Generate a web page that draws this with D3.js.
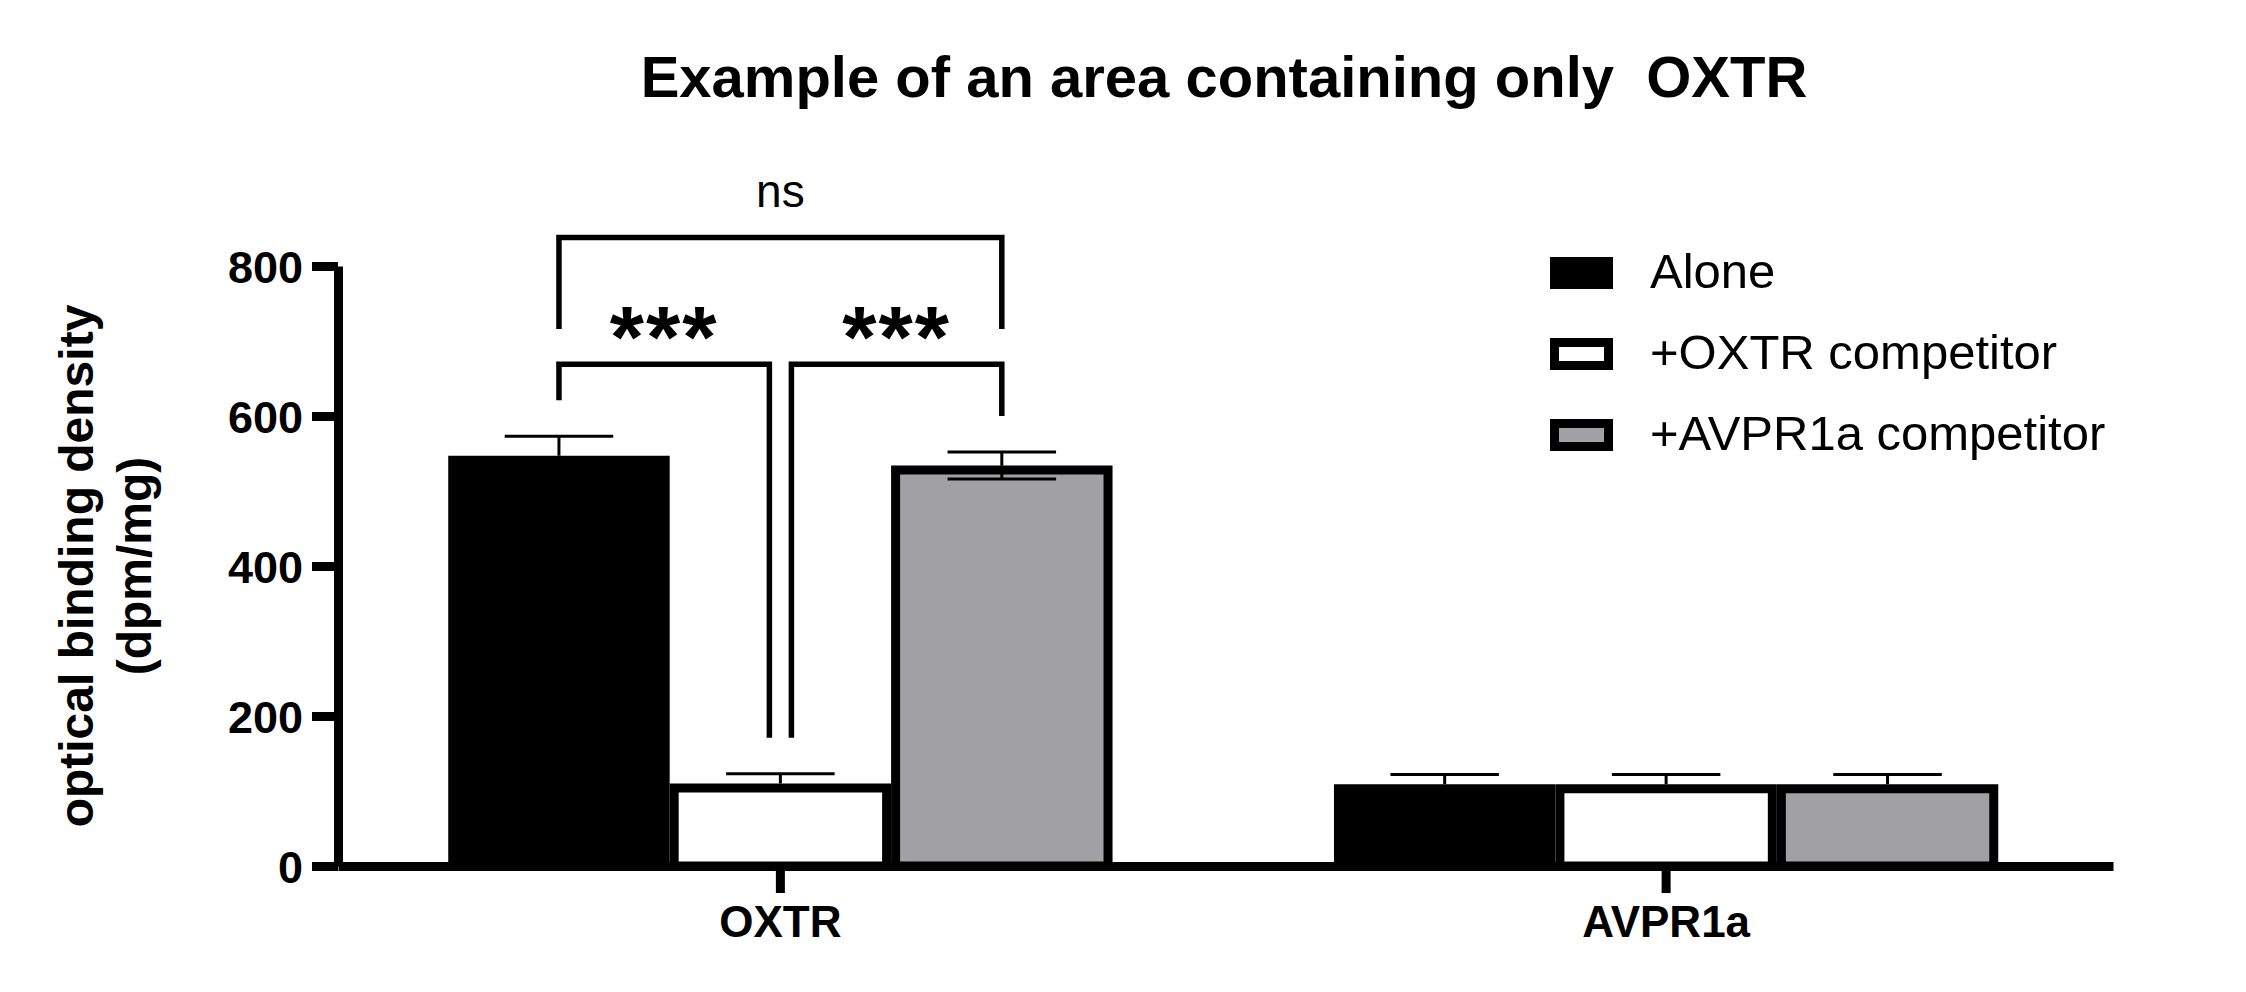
<!DOCTYPE html>
<html>
<head>
<meta charset="utf-8">
<script src="https://cdn.jsdelivr.net/npm/d3@7"></script>
<style>
  html, body { margin: 0; padding: 0; background: #fff; }
  svg { display: block; font-family: "Liberation Sans", Arial, sans-serif; }
</style>
</head>
<body>
<svg id="chart" width="2246" height="992"></svg>
<script>
// ---------- data ----------
const categories = ["OXTR", "AVPR1a"];
const seriesNames = ["Alone", "+OXTR competitor", "+AVPR1a competitor"];
const seriesFills = ["#000000", "#ffffff", "#a1a1a5"];

const aloneValues = [547, 109];
const aloneErrors = [26, 13];
const oxtrCompValues = [110, 109];
const oxtrCompErrors = [13, 13];
const avprCompValues = [534, 109];
const avprCompErrors = [18, 13];
// whether the lower half of the error bar is drawn (per series, per category)
const aloneErrLower = [false, false];
const oxtrCompErrLower = [false, false];
const avprCompErrLower = [true, false];

const yTicks = [0, 200, 400, 600, 800];
const titleText = "Example of an area containing only  OXTR";
const yLabelLines = ["optical binding density", "(dpm/mg)"];

// significance comparisons (within the OXTR group)
const compCategory = ["OXTR", "OXTR", "OXTR"];
const compFrom = [0, 0, 1];
const compTo = [2, 1, 2];
const compTop = [838, 669, 669];
const compFromEnd = [716, 621, 171];
const compToEnd = [716, 171, 600];
const compLabels = ["ns", "***", "***"];

// ---------- build ----------
const seriesValues = [aloneValues, oxtrCompValues, avprCompValues];
const seriesErrors = [aloneErrors, oxtrCompErrors, avprCompErrors];
const seriesErrLower = [aloneErrLower, oxtrCompErrLower, avprCompErrLower];

const rows = [];
categories.forEach((c, ci) => {
  seriesNames.forEach((s, si) => {
    rows.push({cat: c, si, value: seriesValues[si][ci], err: seriesErrors[si][ci], lower: seriesErrLower[si][ci]});
  });
});

const svg = d3.select("#chart");
const AX = 9;       // axis stroke width
const BS = 9;       // bar border width

const y = d3.scaleLinear().domain([0, 800]).range([866, 266]);
const x0 = d3.scaleBand().domain(categories).range([338, 2113])
  .paddingInner(0.25).paddingOuter(0.127).align(0.49);
const x1 = d3.scaleBand().domain(d3.range(seriesNames.length)).range([0, x0.bandwidth()]).padding(0);

// title
svg.append("text")
  .attr("x", 1224).attr("y", 97)
  .attr("text-anchor", "middle")
  .attr("font-size", 58).attr("font-weight", "bold")
  .style("white-space", "pre")
  .attr("xml:space", "preserve")
  .text(titleText);

// bars
const barG = svg.append("g");
barG.selectAll("rect.bar").data(rows).join("rect")
  .attr("class", "bar")
  .attr("x", d => x0(d.cat) + x1(d.si) + BS / 2)
  .attr("y", d => y(d.value) + BS / 2)
  .attr("width", x1.bandwidth() - BS)
  .attr("height", d => y(0) - y(d.value) - BS / 2)
  .attr("fill", d => seriesFills[d.si])
  .attr("stroke", "#000")
  .attr("stroke-width", BS);

// error bars
const capW = x1.bandwidth() * 0.49;
const errG = svg.append("g").attr("stroke", "#000").attr("stroke-width", 3).attr("fill", "none");
rows.forEach(d => {
  const cx = x0(d.cat) + x1(d.si) + x1.bandwidth() / 2;
  errG.append("line").attr("x1", cx).attr("x2", cx).attr("y1", y(d.value)).attr("y2", y(d.value + d.err));
  errG.append("line").attr("x1", cx - capW / 2).attr("x2", cx + capW / 2).attr("y1", y(d.value + d.err)).attr("y2", y(d.value + d.err));
  if (d.lower) {
    errG.append("line").attr("x1", cx).attr("x2", cx).attr("y1", y(d.value)).attr("y2", y(d.value - d.err));
    errG.append("line").attr("x1", cx - capW / 2).attr("x2", cx + capW / 2).attr("y1", y(d.value - d.err)).attr("y2", y(d.value - d.err));
  }
});

// y axis
const yAxis = d3.axisLeft(y).tickValues(yTicks).tickSize(26).tickSizeOuter(0).tickPadding(9);
const yg = svg.append("g").attr("transform", "translate(338,0)").call(yAxis);
yg.select(".domain").attr("stroke-width", AX).attr("stroke", "#000");
yg.selectAll(".tick line").attr("stroke-width", AX).attr("stroke", "#000");
yg.selectAll(".tick text")
  .attr("font-family", "'Liberation Sans', Arial, sans-serif")
  .attr("font-size", 45).attr("font-weight", "bold").attr("fill", "#000")
  .attr("dy", "0.36em");

// x axis
const xAxis = d3.axisBottom(x0).tickSize(27).tickSizeOuter(0).tickPadding(13);
const xg = svg.append("g").attr("transform", `translate(0,${y(0)})`).call(xAxis);
xg.select(".domain").attr("stroke-width", AX).attr("stroke", "#000");
xg.selectAll(".tick line").attr("stroke-width", AX).attr("stroke", "#000");
xg.selectAll(".tick text")
  .attr("font-family", "'Liberation Sans', Arial, sans-serif")
  .attr("font-size", 44).attr("font-weight", "bold").attr("fill", "#000");

// y label
const yl = svg.append("text")
  .attr("transform", `translate(0,${(y(0) + y(800)) / 2}) rotate(-90)`)
  .attr("text-anchor", "middle")
  .attr("font-size", 48).attr("font-weight", "bold");
yLabelLines.forEach((t, i) => {
  yl.append("tspan").attr("x", 0).attr("y", i === 0 ? 93 : 151).text(t);
});

// significance brackets
const gap = 11;
const sigG = svg.append("g");
compLabels.forEach((lab, i) => {
  const cat = compCategory[i];
  const a = compFrom[i], b = compTo[i];
  const cxA = x0(cat) + x1(a) + x1.bandwidth() / 2 + (a === 1 ? gap : 0);
  const cxB = x0(cat) + x1(b) + x1.bandwidth() / 2 - (b === 1 ? gap : 0);
  const path = d3.path();
  path.moveTo(cxA, y(compFromEnd[i]));
  path.lineTo(cxA, y(compTop[i]));
  path.lineTo(cxB, y(compTop[i]));
  path.lineTo(cxB, y(compToEnd[i]));
  sigG.append("path").attr("d", path.toString())
    .attr("fill", "none").attr("stroke", "#000").attr("stroke-width", 5.5)
    .attr("stroke-linejoin", "miter").attr("stroke-linecap", "butt");
  const mid = (cxA + cxB) / 2;
  if (lab === "ns") {
    sigG.append("text").attr("x", mid).attr("y", y(compTop[i]) - 31)
      .attr("text-anchor", "middle").attr("font-size", 46).text(lab);
  } else {
    sigG.append("text").attr("x", mid).attr("y", y(compTop[i]) + 3)
      .attr("text-anchor", "middle").attr("font-size", 88).attr("font-weight", "bold")
      .attr("letter-spacing", 2).text(lab);
  }
});

// legend
const legendRowY = [273, 354, 435];
const lg = svg.append("g");
seriesNames.forEach((s, i) => {
  lg.append("rect")
    .attr("x", 1550 + BS / 2).attr("y", legendRowY[i] - 16 + BS / 2)
    .attr("width", 63 - BS).attr("height", 32 - BS)
    .attr("fill", seriesFills[i]).attr("stroke", "#000").attr("stroke-width", BS);
  lg.append("text").attr("x", 1650).attr("y", legendRowY[i] - 3)
    .attr("dy", "0.36em").attr("font-size", 49).text(s);
});
</script>
</body>
</html>
